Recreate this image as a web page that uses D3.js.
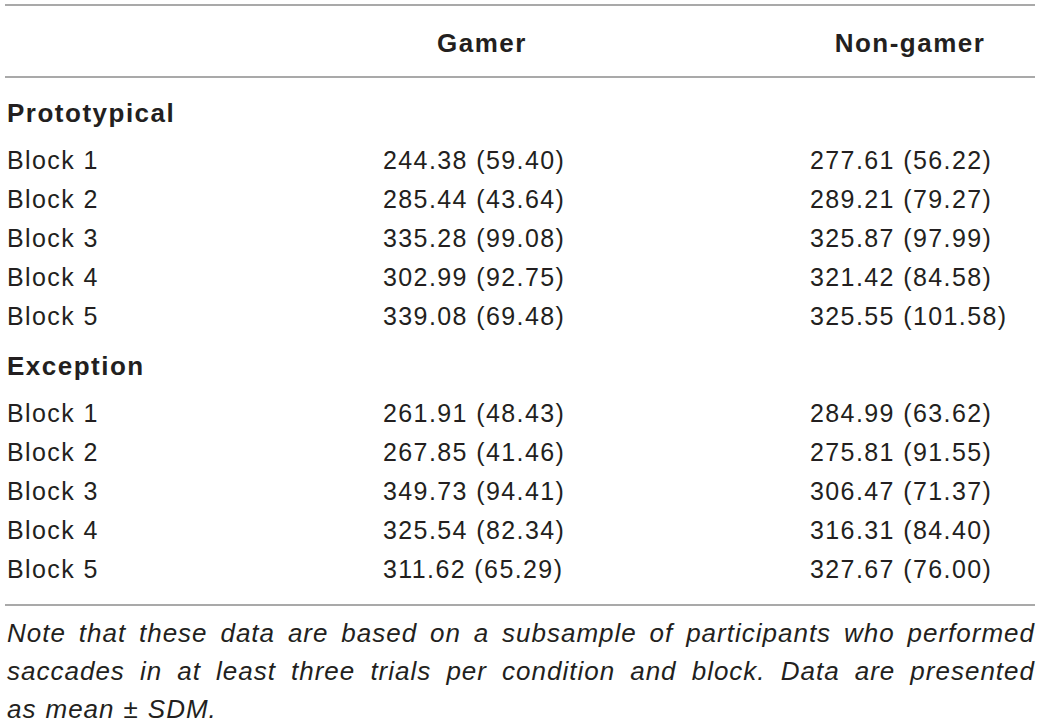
<!DOCTYPE html>
<html>
<head>
<meta charset="utf-8">
<script src="https://cdn.jsdelivr.net/npm/d3@7"></script>
<style>
  body { margin: 0; background: #fff; }
  text { font-family: "Liberation Sans", Arial, sans-serif; fill: #231f20; }
</style>
</head>
<body>
<script>
var columns = ["Gamer", "Non-gamer"];
var sections = ["Prototypical", "Exception"];
var blocks = ["Block 1", "Block 2", "Block 3", "Block 4", "Block 5"];

var gamerProtoMean = [244.38, 285.44, 335.28, 302.99, 339.08];
var gamerProtoSD = [59.40, 43.64, 99.08, 92.75, 69.48];
var nonGamerProtoMean = [277.61, 289.21, 325.87, 321.42, 325.55];
var nonGamerProtoSD = [56.22, 79.27, 97.99, 84.58, 101.58];

var gamerExcMean = [261.91, 267.85, 349.73, 325.54, 311.62];
var gamerExcSD = [48.43, 41.46, 94.41, 82.34, 65.29];
var nonGamerExcMean = [284.99, 275.81, 306.47, 316.31, 327.67];
var nonGamerExcSD = [63.62, 91.55, 71.37, 84.40, 76.00];

var noteLines = [
  "Note that these data are based on a subsample of participants who performed",
  "saccades in at least three trials per condition and block. Data are presented",
  "as mean \u00b1 SDM."
];

var w = 1041, h = 724;
var left = 7, right = 1035;

var svg = d3.select("body").append("svg")
    .attr("width", w)
    .attr("height", h);

// column positions: header centre and value left edge
var headX = d3.scaleOrdinal().domain(columns).range([482, 910]);
var valX = d3.scaleOrdinal().domain(columns).range([383, 810]);

// row baselines inside a section
var rowY = d3.scaleLinear().domain([0, 4]).range([169, 325]);
var sectionOffset = d3.scaleOrdinal().domain(sections).range([0, 253]);

function fmt(m, s) { return m.toFixed(2) + " (" + s.toFixed(2) + ")"; }

var tableData = [
  {section: "Prototypical", cols: [[gamerProtoMean, gamerProtoSD], [nonGamerProtoMean, nonGamerProtoSD]]},
  {section: "Exception", cols: [[gamerExcMean, gamerExcSD], [nonGamerExcMean, nonGamerExcSD]]}
];

// rules
var rules = [5, 77, 605];
svg.selectAll(".rule").data(rules).enter().append("line")
    .attr("class", "rule")
    .attr("x1", 5).attr("x2", right)
    .attr("y1", function(d) { return d; })
    .attr("y2", function(d) { return d; })
    .attr("stroke", "#8c8c8c")
    .attr("stroke-width", 1.5);

// header
svg.selectAll(".head").data(columns).enter().append("text")
    .attr("class", "head")
    .attr("x", function(d) { return headX(d); })
    .attr("y", 52)
    .attr("text-anchor", "middle")
    .style("font-size", "26px")
    .style("font-weight", "bold")
    .style("letter-spacing", "1.5px")
    .text(function(d) { return d; });

tableData.forEach(function(sec) {
  var off = sectionOffset(sec.section);
  svg.append("text")
      .attr("x", left)
      .attr("y", 122 + off)
      .style("font-size", "26px")
      .style("font-weight", "bold")
      .style("letter-spacing", "1.5px")
      .text(sec.section);

  svg.selectAll(".lab-" + sec.section).data(blocks).enter().append("text")
      .attr("x", left)
      .attr("y", function(d, i) { return rowY(i) + off; })
      .style("font-size", "25px")
      .style("letter-spacing", "1.4px")
      .text(function(d) { return d; });

  sec.cols.forEach(function(c, ci) {
    svg.selectAll(".val-" + sec.section + ci).data(c[0]).enter().append("text")
        .attr("x", valX(columns[ci]))
        .attr("y", function(d, i) { return rowY(i) + off; })
        .style("font-size", "25px")
        .style("letter-spacing", "1.4px")
        .text(function(d, i) { return fmt(d, c[1][i]); });
  });
});

// note, justified on all but the last line
var noteY = d3.scaleLinear().domain([0, 2]).range([642, 718]);
noteLines.forEach(function(line, li) {
  var words = line.split(" ");
  var g = svg.append("g");
  var ws = words.map(function(wd) {
    return g.append("text")
        .attr("y", noteY(li))
        .style("font-size", "26px")
        .style("font-style", "italic")
        .style("letter-spacing", "1px")
        .text(wd);
  });
  var lens = ws.map(function(t) { return t.node().getComputedTextLength(); });
  var total = d3.sum(lens);
  var gap = li < noteLines.length - 1 ? (right - left - total) / (words.length - 1) : 9;
  var x = left;
  ws.forEach(function(t, i) {
    t.attr("x", x);
    x += lens[i] + gap;
  });
});
</script>
</body>
</html>
